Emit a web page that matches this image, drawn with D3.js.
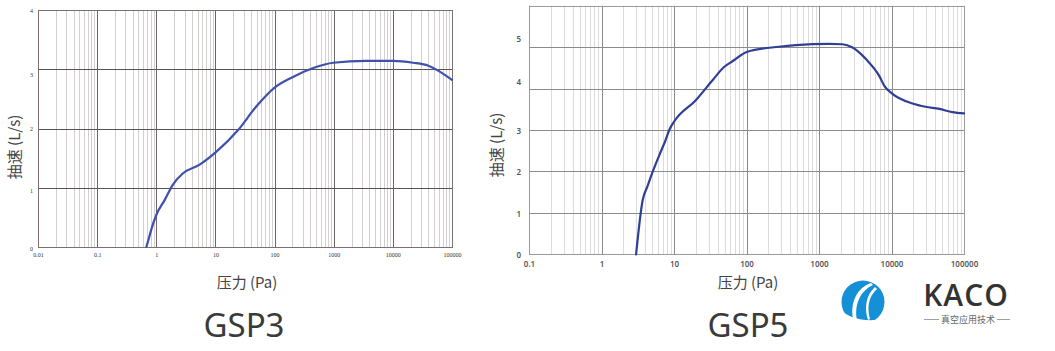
<!DOCTYPE html>
<html><head><meta charset="utf-8">
<script src="https://cdn.jsdelivr.net/npm/d3@7"></script>
<style>
html,body{margin:0;padding:0;background:#fff;}
svg{display:block;}
</style></head>
<body>
<svg id="c" width="1055" height="351"></svg>
<script>
// ---- data ----
const gsp3Pressure = [0.68, 0.75, 0.82, 1.0, 1.4, 1.9, 2.8, 5.4, 10.4, 24, 49, 100, 205, 450, 980, 3500, 10000, 22000, 40000, 100000];
const gsp3Speed    = [0, 0.15, 0.29, 0.54, 0.8, 1.05, 1.24, 1.39, 1.61, 1.97, 2.37, 2.69, 2.87, 3.02, 3.11, 3.14, 3.14, 3.11, 3.06, 2.82];
const gsp5Pressure = [3, 3.7, 4.3, 5.0, 6.3, 7.7, 8.6, 10, 20, 34, 49, 64, 103, 280, 480, 1380, 2100, 2900, 4500, 6800, 8000, 10200, 19500, 29500, 45700, 69000, 100000];
const gsp5Speed    = [0, 1.31, 1.64, 1.96, 2.40, 2.77, 3.0, 3.2, 3.72, 4.2, 4.52, 4.66, 4.89, 5.01, 5.05, 5.08, 5.07, 4.99, 4.70, 4.30, 4.06, 3.88, 3.64, 3.56, 3.51, 3.43, 3.40];
const gsp3XTicks = [0.01, 0.1, 1, 10, 100, 1000, 10000, 100000];
const gsp3XLabels = ["0.01", "0.1", "1", "10", "100", "1000", "10000", "100000"];
const gsp3YTicks = [0, 1, 2, 3, 4];
const gsp5XTicks = [0.1, 1, 10, 100, 1000, 10000, 100000];
const gsp5XLabels = ["0.1", "1", "10", "100", "1000", "10000", "100000"];
const gsp5YTicks = [0, 1, 2, 3, 4, 5];
const titles = ["GSP3", "GSP5"];
const xTitle = "压力 (Pa)";
const yTitle = "抽速 (L/s)";

const svg = d3.select("#c");

function chart(cfg) {
  const x = d3.scaleLog().domain(cfg.xDomain).range([cfg.left, cfg.right]);
  const y = d3.scaleLinear().domain(cfg.yDomain).range([cfg.bottom, cfg.top]);
  const g = svg.append("g");
  const minors = [];
  const lo = Math.round(Math.log10(cfg.xDomain[0])), hi = Math.round(Math.log10(cfg.xDomain[1]));
  for (let e = lo; e < hi; e++) for (let m = 2; m <= 9; m++) minors.push(m * Math.pow(10, e));
  g.append("g").selectAll("line").data(minors).join("line")
    .attr("x1", d => Math.round(x(d)) + 0.5).attr("x2", d => Math.round(x(d)) + 0.5)
    .attr("y1", cfg.top).attr("y2", cfg.bottom)
    .attr("stroke", cfg.minorColor).attr("stroke-width", 1);
  g.append("g").selectAll("line").data(cfg.xTicks).join("line")
    .attr("x1", d => Math.round(x(d)) + 0.5).attr("x2", d => Math.round(x(d)) + 0.5)
    .attr("y1", cfg.top).attr("y2", cfg.bottom)
    .attr("stroke", cfg.majorColor).attr("stroke-width", 1);
  g.append("g").selectAll("line").data(cfg.yGrid).join("line")
    .attr("x1", cfg.left).attr("x2", cfg.right)
    .attr("y1", d => Math.round(y(d)) + 0.5).attr("y2", d => Math.round(y(d)) + 0.5)
    .attr("stroke", cfg.hColor).attr("stroke-width", 1);
  g.append("rect").attr("x", cfg.left + 0.5).attr("y", Math.round(cfg.top) + 0.5)
    .attr("width", cfg.right - cfg.left).attr("height", Math.round(cfg.bottom) - Math.round(cfg.top))
    .attr("fill", "none").attr("stroke", cfg.borderColor).attr("stroke-width", 1);
  const xa = d3.axisBottom(x).tickValues(cfg.xTicks).tickSize(0).tickPadding(0)
    .tickFormat((d, i) => cfg.xLabels[i]);
  const xg = g.append("g").attr("transform", `translate(0,${cfg.bottom + cfg.xLabelDy})`).call(xa);
  xg.select(".domain").remove();
  xg.selectAll("text").attr("font-family", cfg.tickFont).attr("font-size", cfg.tickSize)
    .attr("font-weight", cfg.tickWeight).attr("fill", cfg.tickColor).attr("dy", "0.71em");
  const ya = d3.axisLeft(y).tickValues(cfg.yTicks).tickSize(0).tickPadding(cfg.yPad).tickFormat(d3.format("d"));
  const yg = g.append("g").attr("transform", `translate(${cfg.left},0)`).call(ya);
  yg.select(".domain").remove();
  yg.selectAll("text").attr("font-family", cfg.tickFont).attr("font-size", cfg.tickSize)
    .attr("font-weight", cfg.tickWeight).attr("fill", cfg.tickColor)
    .attr("dy", d => (cfg.yLabelShift[d] || 0) + "px")
    .attr("dominant-baseline", "central");
  const pts = cfg.px.map((p, i) => [p, cfg.py[i]]);
  g.append("path").datum(pts)
    .attr("d", d3.line().x(d => x(d[0])).y(d => y(d[1])).curve(d3.curveMonotoneX))
    .attr("fill", "none").attr("stroke", cfg.lineColor).attr("stroke-width", 2.2)
    .attr("stroke-linejoin", "round").attr("stroke-linecap", "round");
  g.append("text").attr("x", cfg.xTitleX).attr("y", 288).attr("text-anchor", "middle")
    .attr("font-family", "Noto Sans CJK SC").attr("font-size", 15).attr("fill", "#444").text(xTitle);
  g.append("text").attr("transform", `translate(${cfg.yTitleX},${cfg.yTitleY}) rotate(-90)`)
    .attr("text-anchor", "middle").attr("font-family", "Noto Sans CJK SC").attr("font-size", 15)
    .attr("fill", "#444").text(yTitle);
  g.append("text").attr("x", cfg.titleX).attr("y", 337).attr("text-anchor", "middle")
    .attr("font-family", "Noto Sans").attr("font-size", 33).attr("fill", "#3a3a3a").text(cfg.title);
}

chart({
  xDomain: [0.01, 100000], yDomain: [0, 4], left: 38, right: 452, top: 10, bottom: 247,
  xTicks: gsp3XTicks, xLabels: gsp3XLabels, yTicks: gsp3YTicks, yGrid: [1, 2, 3],
  px: gsp3Pressure, py: gsp3Speed,
  minorColor: "#d4d0d0", majorColor: "#6e6464", hColor: "#5a5252", borderColor: "#7a7070",
  tickFont: "Liberation Serif", tickSize: 6, tickWeight: 400, tickColor: "#333",
  xLabelDy: 6, yPad: 5, yLabelShift: {0: 1, 1: 3, 3: 5, 4: 0},
  lineColor: "#3f51ad", xTitleX: 247, yTitleX: 20, yTitleY: 147, titleX: 244, title: titles[0]
});
chart({
  xDomain: [0.1, 100000], yDomain: [0, 6], left: 529, right: 964, top: 5.7, bottom: 254.3,
  xTicks: gsp5XTicks, xLabels: gsp5XLabels, yTicks: gsp5YTicks, yGrid: [1, 2, 3, 4, 5],
  px: gsp5Pressure, py: gsp5Speed,
  minorColor: "#dcdcdc", majorColor: "#8a8a8a", hColor: "#8c8c8c", borderColor: "#9a9a9a",
  tickFont: "Noto Sans", tickSize: 8, tickWeight: 600, tickColor: "#555",
  xLabelDy: 7, yPad: 8, yLabelShift: {4: -8, 5: -9},
  lineColor: "#2f3f95", xTitleX: 748, yTitleX: 502, yTitleY: 145, titleX: 748, title: titles[1]
});

// ---- logo ----
const logo = svg.append("g").attr("transform", "translate(863,302)");
logo.append("circle").attr("r", 21.5).attr("fill", "#1590d6");
logo.append("path").attr("fill", "#fff")
  .attr("d", "M8,-19 C-6,-14 -13,0 -10,17 L-6,18 C-9,3 -3,-11 10,-17 Z");
logo.append("path").attr("fill", "#fff")
  .attr("d", "M12,-15 C3,-7 1,6 5,18 L7,17 C4,6 5,-5 14,-13 Z");
logo.append("path").attr("fill", "#fff")
  .attr("d", "M-22,8 C-15,15 -3,19 12,18 L12,22 C-3,24 -16,19 -22,12 Z");
svg.append("text").attr("x", 966).attr("y", 306).attr("text-anchor", "middle")
  .attr("font-family", "Open Sans").attr("font-weight", 600).attr("font-size", 30)
  .attr("fill", "#333").attr("letter-spacing", 1).text("KACO");
svg.append("text").attr("x", 968).attr("y", 323).attr("text-anchor", "middle")
  .attr("font-family", "Noto Sans CJK SC").attr("font-size", 9).attr("fill", "#666")
  .text("真空应用技术");
svg.append("line").attr("x1", 924).attr("x2", 939).attr("y1", 319.5).attr("y2", 319.5).attr("stroke", "#888").attr("stroke-width", 0.8);
svg.append("line").attr("x1", 997).attr("x2", 1010).attr("y1", 319.5).attr("y2", 319.5).attr("stroke", "#888").attr("stroke-width", 0.8);
</script>
</body></html>
